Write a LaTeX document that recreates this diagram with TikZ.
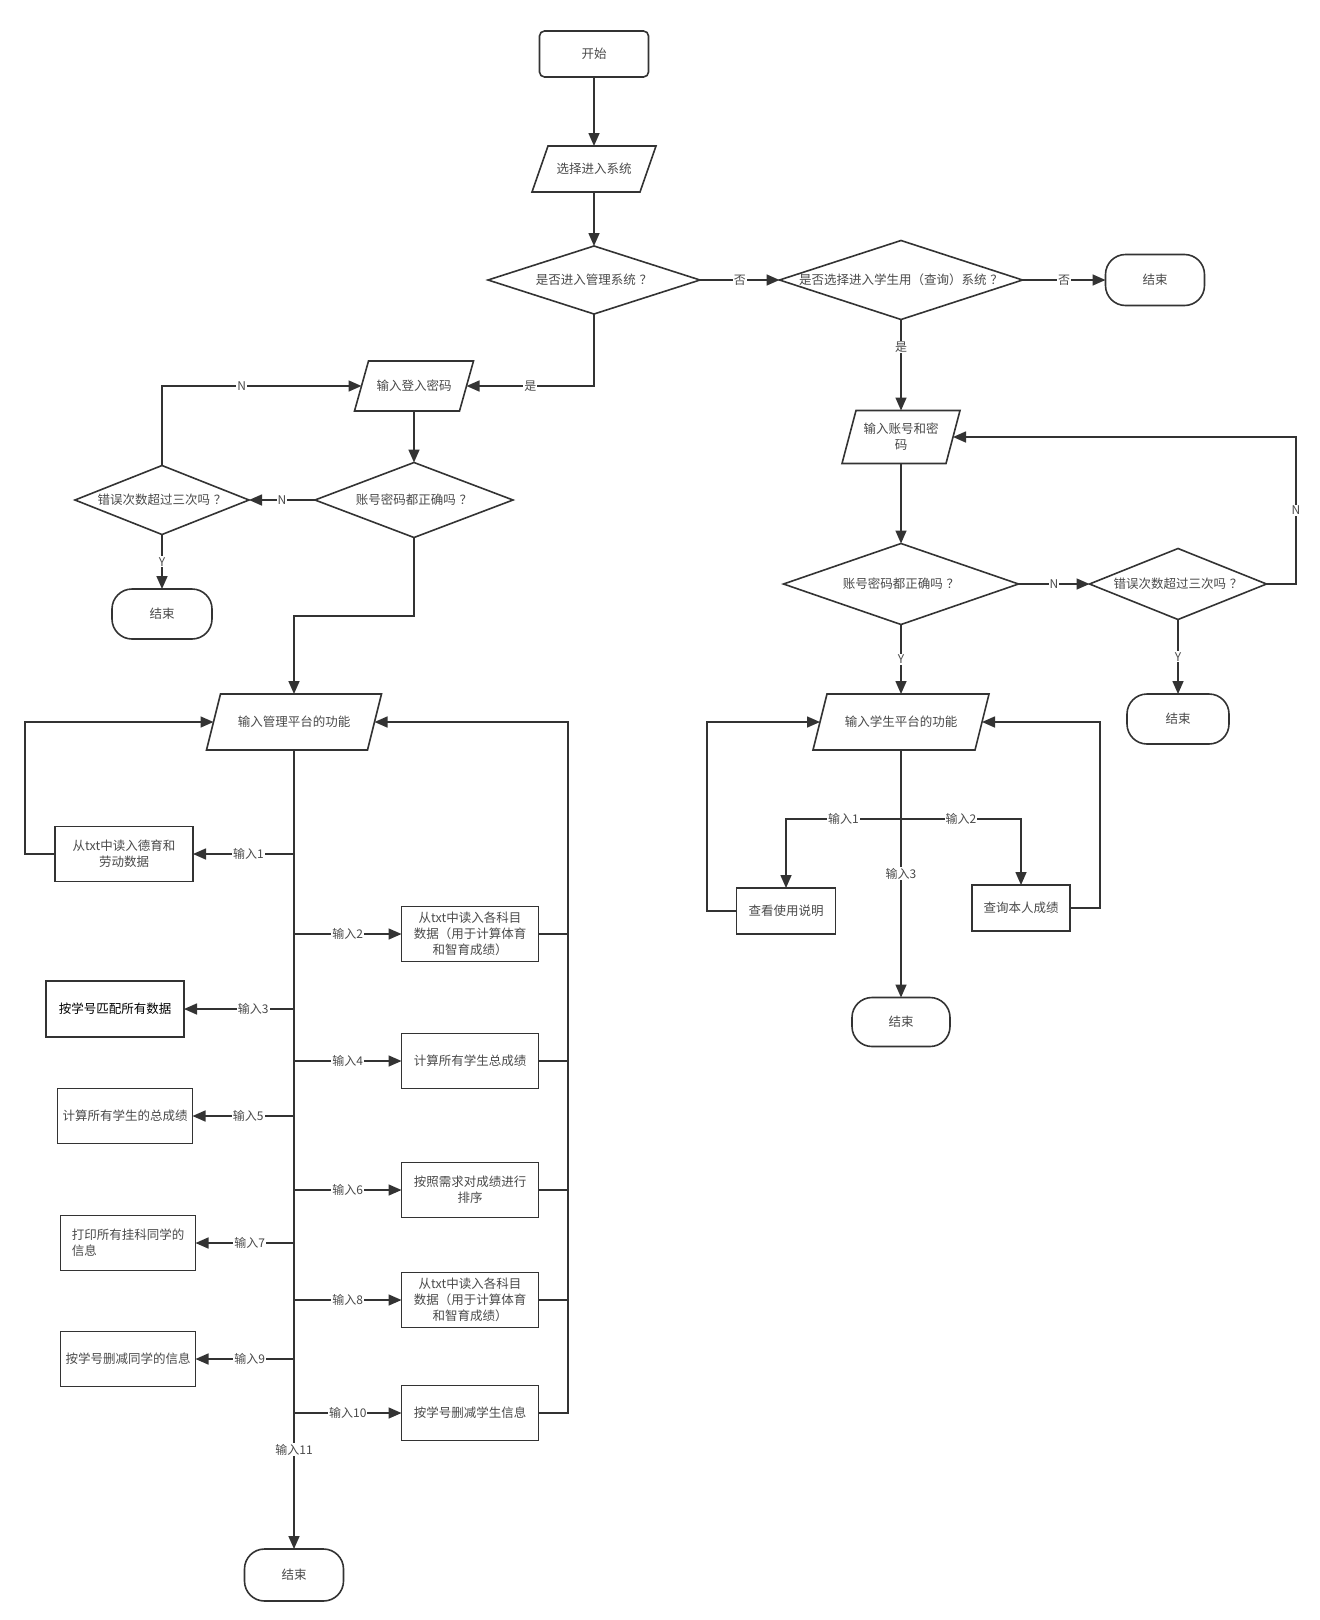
\documentclass[tikz,border=0pt]{standalone}
\usepackage{fontspec}
\setmainfont{Noto Sans CJK SC}
\usetikzlibrary{arrows.meta,calc}
\definecolor{ln}{HTML}{333333}
\definecolor{tx}{HTML}{4a4a4a}
\newcommand\qm{\hspace{0.3em}？}
\newcommand\drawpara[2]{\draw[shp] ([xshift=#2pt]#1.north west) -- ([xshift=#2pt]#1.north east) -- ([xshift=-#2pt]#1.south east) -- ([xshift=-#2pt]#1.south west) -- cycle;}
\newcommand\drawdiam[1]{\draw[shp] (#1.west) -- (#1.north) -- (#1.east) -- (#1.south) -- cycle;}
\begin{document}
\begin{tikzpicture}[x=1pt,y=-1pt,
 every node/.style={font=\fontsize{12.5}{16}\selectfont, text=tx, outer sep=0pt, inner sep=1pt, align=center},
 sz/.style 2 args={minimum width=#1pt, minimum height=#2pt},
 box/.style={draw=ln, line width=1.6pt},
 term/.style={draw=ln, line width=1.6pt, rounded corners=20pt},
 startbox/.style={draw=ln, line width=1.6pt, rounded corners=5pt},
 shp/.style={draw=ln, line width=1.6pt, line join=miter},
 lk/.style={draw=ln, line width=1.6pt},
 arr/.style={lk, -{Triangle[length=13pt,width=11pt]}},
 lbl/.style={fill=white, inner sep=1pt, font=\fontsize{12}{14}\selectfont},
]
\fill[white] (0,0) rectangle (1320,1620);
\useasboundingbox (0,0) rectangle (1320,1620);

% ---------- top ----------
\node[startbox, sz={109}{46}] (st) at (594,54) {开始};
\node[sz={108}{46}] (p1) at (594,169) {选择进入系统};
\node[sz={212}{68}] (d1) at (594,280) {是否进入管理系统\qm};
\node[sz={243}{79}] (d2) at (901,280) {是否选择进入学生用（查询）系统\qm};
\node[term, sz={99}{51}] (e1) at (1155,280) {结束};

% ---------- admin login ----------
\node[sz={105}{50}] (p2) at (414,386) {输入登入密码};
\node[sz={198}{75}] (d3) at (414,500) {账号密码都正确吗\qm};
\node[sz={174}{69}] (d4) at (162,500) {错误次数超过三次吗\qm};
\node[term, sz={100}{50}] (e2) at (162,614) {结束};

% ---------- admin platform ----------
\node[sz={161}{56}] (pm) at (294,722) {输入管理平台的功能};
\node[term, sz={99}{52}] (e3) at (294,1575) {结束};
\node[box, sz={138}{55}] (L1) at (124,854) {从txt中读入德育和\\劳动数据};
\node[box, sz={138}{56}, text=black] (L3) at (115,1009) {按学号匹配所有数据};
\node[box, sz={135}{55}] (L5) at (125,1116) {计算所有学生的总成绩};
\node[box, sz={135}{55}, align=left] (L7) at (128,1243) {打印所有挂科同学的\\信息};
\node[box, sz={135}{55}] (L9) at (128,1359) {按学号删减同学的信息};
\node[box, sz={137}{55}] (R2) at (470,934) {从txt中读入各科目\\数据（用于计算体育\\和智育成绩）};
\node[box, sz={137}{55}] (R4) at (470,1061) {计算所有学生总成绩};
\node[box, sz={137}{55}] (R6) at (470,1190) {按照需求对成绩进行\\排序};
\node[box, sz={137}{55}] (R8) at (470,1300) {从txt中读入各科目\\数据（用于计算体育\\和智育成绩）};
\node[box, sz={137}{55}] (R10) at (470,1413) {按学号删减学生信息};

% ---------- student side ----------
\node[sz={104}{53}] (p3) at (901,437) {输入账号和密\\码};
\node[sz={235}{81}] (d5) at (901,584) {账号密码都正确吗\qm};
\node[sz={177}{71}] (d6) at (1178,584) {错误次数超过三次吗\qm};
\node[term, sz={102}{50}] (e4) at (1178,719) {结束};
\node[sz={162}{56}] (ps) at (901,722) {输入学生平台的功能};
\node[box, sz={99}{46}] (c1) at (786,911) {查看使用说明};
\node[box, sz={98}{46}] (c2) at (1021,908) {查询本人成绩};
\node[term, sz={98}{49}] (e5) at (901,1022) {结束};

% ---------- outlines ----------
\drawpara{p1}{8}
\drawpara{p2}{7}
\drawpara{pm}{7}
\drawpara{p3}{7}
\drawpara{ps}{7}
\drawdiam{d1}
\drawdiam{d2}
\drawdiam{d3}
\drawdiam{d4}
\drawdiam{d5}
\drawdiam{d6}

% ---------- coordinates ----------
\coordinate (k1) at (414,616);
\coordinate (k2) at (1296,584);
\coordinate (k3) at (707,911);
\coordinate (k4) at (1100,908);
\coordinate (k5) at (568,1413);
\coordinate (k6) at (25,854);
\coordinate (bp) at (901,819);
\coordinate (m1) at (294,854);
\coordinate (m2) at (294,934);
\coordinate (m3) at (294,1009);
\coordinate (m4) at (294,1061);
\coordinate (m5) at (294,1116);
\coordinate (m6) at (294,1190);
\coordinate (m7) at (294,1243);
\coordinate (m8) at (294,1300);
\coordinate (m9) at (294,1359);
\coordinate (m10) at (294,1413);

% ---------- connectors: top ----------
\draw[arr] (st.south) -- (p1.north);
\draw[arr] (p1.south) -- (d1.north);
\draw[arr] (d1.east) -- node[lbl]{否} (d2.west);
\draw[arr] (d2.east) -- node[lbl]{否} (e1.west);

% ---------- admin login ----------
\draw[arr] (d1.south) |- node[lbl,pos=0.75]{是} (p2.east);
\draw[arr] (p2.south) -- (d3.north);
\draw[arr] (d3.west) -- node[lbl]{N} (d4.east);
\draw[arr] (d4.north) |- node[lbl,pos=0.7]{N} (p2.west);
\draw[arr] (d4.south) -- node[lbl]{Y} (e2.north);
\draw[arr] (d3.south) -- (k1) -| (pm.north);

% ---------- admin platform ----------
\draw[arr] (pm.south) -- node[lbl,pos=0.876]{输入11} (e3.north);
\draw[arr] (m1) -- node[lbl,pos=0.45]{输入1} (L1.east);
\draw[arr] (m3) -- node[lbl,pos=0.37]{输入3} (L3.east);
\draw[arr] (m5) -- node[lbl,pos=0.45]{输入5} (L5.east);
\draw[arr] (m7) -- node[lbl,pos=0.45]{输入7} (L7.east);
\draw[arr] (m9) -- node[lbl,pos=0.45]{输入9} (L9.east);
\draw[arr] (m2) -- node[lbl]{输入2} (R2.west);
\draw[arr] (m4) -- node[lbl]{输入4} (R4.west);
\draw[arr] (m6) -- node[lbl]{输入6} (R6.west);
\draw[arr] (m8) -- node[lbl]{输入8} (R8.west);
\draw[arr] (m10) -- node[lbl]{输入10} (R10.west);
\draw[arr] (L1.west) -- (k6) |- (pm.west);
\draw[arr] (R10.east) -- (k5) |- (pm.east);
\draw[lk] (R2.east) -- (R2.east -| k5);
\draw[lk] (R4.east) -- (R4.east -| k5);
\draw[lk] (R6.east) -- (R6.east -| k5);
\draw[lk] (R8.east) -- (R8.east -| k5);

% ---------- student side ----------
\draw[arr] (d2.south) -- node[lbl,pos=0.3]{是} (p3.north);
\draw[arr] (p3.south) -- (d5.north);
\draw[arr] (d5.east) -- node[lbl]{N} (d6.west);
\draw[arr] (d6.east) -- (k2) |- node[lbl,pos=0.25]{N} (p3.east);
\draw[arr] (d6.south) -- node[lbl]{Y} (e4.north);
\draw[arr] (d5.south) -- node[lbl]{Y} (ps.north);
\draw[arr] (ps.south) -- node[lbl,pos=0.5]{输入3} (e5.north);
\draw[arr] (bp) -| node[lbl,pos=0.25]{输入1} (c1.north);
\draw[arr] (bp) -| node[lbl,pos=0.25]{输入2} (c2.north);
\draw[arr] (c1.west) -- (k3) |- (ps.west);
\draw[arr] (c2.east) -- (k4) |- (ps.east);
\end{tikzpicture}
\end{document}
